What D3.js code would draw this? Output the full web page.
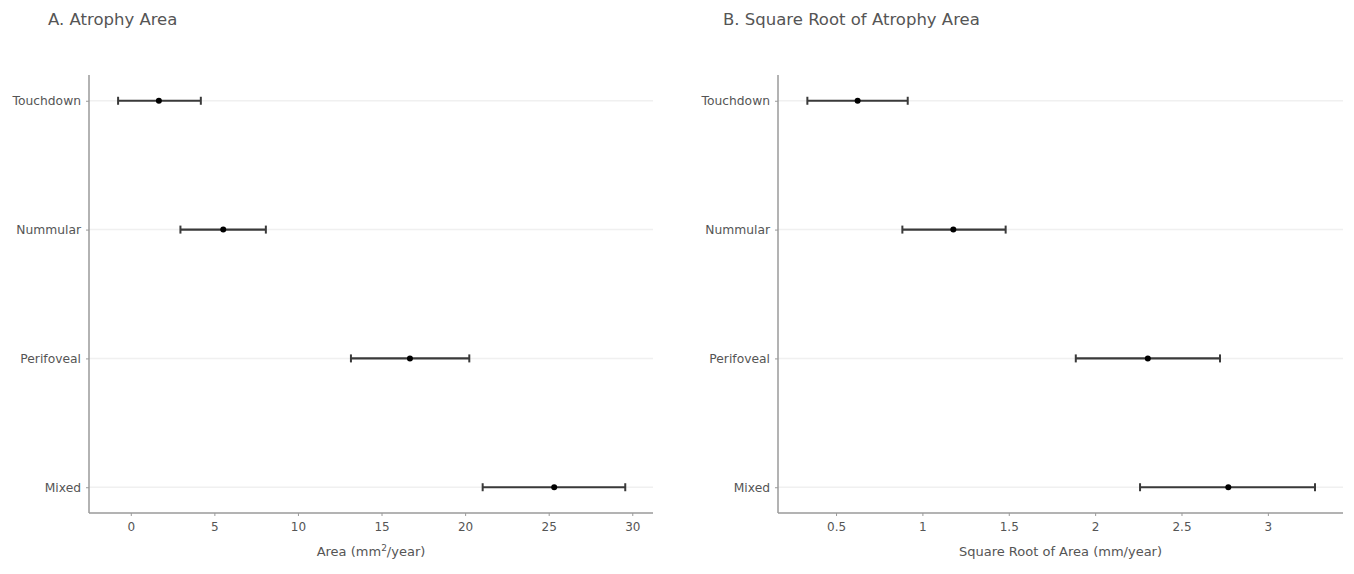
<!DOCTYPE html>
<html>
<head>
<meta charset="utf-8">
<script src="https://cdn.jsdelivr.net/npm/d3@7"></script>
<style>
  html, body { margin: 0; padding: 0; background: #fff; }
  svg { display: block; font-family: "DejaVu Sans", Verdana, sans-serif; }
</style>
</head>
<body>
<svg id="chart" width="1354" height="574"></svg>
<script>
// ---- data ----
const categories = ["Touchdown", "Nummular", "Perifoveal", "Mixed"];

const areaEstimate = [1.68, 5.53, 16.70, 25.33];
const areaLower    = [-0.76, 2.97, 13.17, 21.05];
const areaUpper    = [4.19, 8.08, 20.25, 29.58];
const areaTicks    = [0, 5, 10, 15, 20, 25, 30];

const sqrtEstimate = [0.625, 1.179, 2.305, 2.771];
const sqrtLower    = [0.334, 0.884, 1.888, 2.260];
const sqrtUpper    = [0.915, 1.482, 2.723, 3.273];
const sqrtTicks    = [0.5, 1, 1.5, 2, 2.5, 3];

const panels = [
  { title: "A. Atrophy Area", titleX: 48, left: 89, right: 653, domain: [-2.5, 31.24],
    est: areaEstimate, lo: areaLower, hi: areaUpper, ticks: areaTicks, xTitle: "area" },
  { title: "B. Square Root of Atrophy Area", titleX: 723, left: 778, right: 1343, domain: [0.164, 3.435],
    est: sqrtEstimate, lo: sqrtLower, hi: sqrtUpper, ticks: sqrtTicks, xTitle: "sqrt" }
];

const svg = d3.select("#chart");
const plotTop = 75, plotBottom = 513;
const textColor = "#555", axisColor = "#9a9a9a";

panels.forEach(p => {
  const x = d3.scaleLinear().domain(p.domain).range([p.left, p.right]);
  const y = d3.scalePoint().domain(categories).range([plotTop, plotBottom]).padding(0.2);
  const g = svg.append("g");

  // title
  g.append("text").attr("x", p.titleX).attr("y", 25)
    .attr("font-size", 16.5).attr("fill", textColor).text(p.title);

  // gridlines
  g.selectAll("line.grid").data(categories).enter().append("line")
    .attr("class", "grid")
    .attr("x1", p.left).attr("x2", p.right)
    .attr("y1", d => y(d)).attr("y2", d => y(d))
    .attr("stroke", "#f0f0f0").attr("stroke-width", 1.5);

  // x axis
  const xAxis = d3.axisBottom(x).tickValues(p.ticks).tickSize(3).tickPadding(6)
    .tickFormat(d3.format("~g"));
  const xg = g.append("g").attr("transform", `translate(0,${plotBottom})`).call(xAxis);
  xg.select(".domain").attr("stroke", axisColor).attr("stroke-width", 1.5)
    .attr("d", `M${p.left},0H${p.right}`);
  xg.selectAll(".tick line").attr("stroke", axisColor);
  xg.selectAll(".tick text").attr("fill", textColor).attr("font-size", 12)
    .attr("font-family", "DejaVu Sans, sans-serif");

  // y axis
  const yAxis = d3.axisLeft(y).tickSize(3).tickPadding(5);
  const yg = g.append("g").attr("transform", `translate(${p.left},0)`).call(yAxis);
  yg.select(".domain").attr("stroke", axisColor).attr("stroke-width", 1.5)
    .attr("d", `M0,${plotTop}V${plotBottom}`);
  yg.selectAll(".tick line").attr("stroke", axisColor);
  yg.selectAll(".tick text").attr("fill", textColor).attr("font-size", 12.3)
    .attr("font-family", "DejaVu Sans, sans-serif");

  // x axis title
  const cx = (p.left + p.right) / 2;
  const t = g.append("text").attr("x", cx).attr("y", 556)
    .attr("text-anchor", "middle").attr("font-size", 13).attr("fill", textColor);
  if (p.xTitle === "area") {
    t.append("tspan").text("Area (mm");
    t.append("tspan").attr("font-size", 9).attr("dy", -5).text("2");
    t.append("tspan").attr("dy", 5).text("/year)");
  } else {
    t.text("Square Root of Area (mm/year)");
  }

  // error bars
  const rows = categories.map((c, i) => ({ c, est: p.est[i], lo: p.lo[i], hi: p.hi[i] }));
  const eb = g.selectAll("g.eb").data(rows).enter().append("g").attr("class", "eb");
  eb.append("line")
    .attr("x1", d => x(d.lo)).attr("x2", d => x(d.hi))
    .attr("y1", d => y(d.c)).attr("y2", d => y(d.c))
    .attr("stroke", "#3a3a3a").attr("stroke-width", 2.2);
  eb.append("line")
    .attr("x1", d => x(d.lo)).attr("x2", d => x(d.lo))
    .attr("y1", d => y(d.c) - 4).attr("y2", d => y(d.c) + 4)
    .attr("stroke", "#3a3a3a").attr("stroke-width", 2);
  eb.append("line")
    .attr("x1", d => x(d.hi)).attr("x2", d => x(d.hi))
    .attr("y1", d => y(d.c) - 4).attr("y2", d => y(d.c) + 4)
    .attr("stroke", "#3a3a3a").attr("stroke-width", 2);
  eb.append("circle")
    .attr("cx", d => x(d.est)).attr("cy", d => y(d.c)).attr("r", 3)
    .attr("fill", "#000");
});
</script>
</body>
</html>
